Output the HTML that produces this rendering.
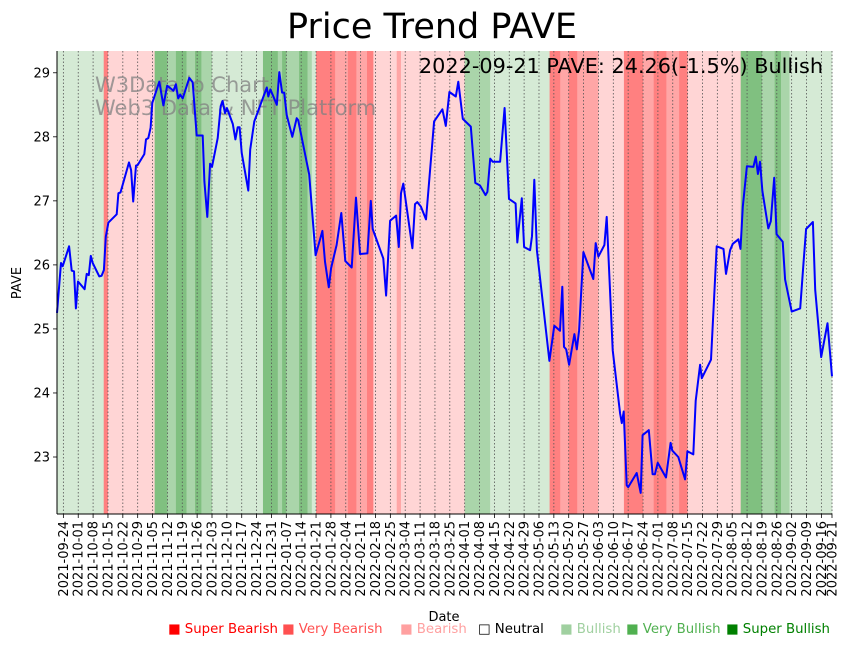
<!DOCTYPE html>
<html><head><meta charset="utf-8"><style>
html,body{margin:0;padding:0;background:#fff;}
svg{display:block;font-family:"DejaVu Sans","Liberation Sans",sans-serif;}
</style></head><body>
<svg id="chart" width="851" height="646" viewBox="0 0 851 646" xmlns="http://www.w3.org/2000/svg">
<g id="bands"></g>
<g id="grid"></g>
<text x="95" y="92" font-size="21" fill="#808080" fill-opacity="0.75">W3Data.io Chart</text>
<text x="95" y="115" font-size="21" fill="#808080" fill-opacity="0.75">Web3 Data &amp; NFT Platform</text>
<path id="line" fill="none" stroke="#0000ff" stroke-width="2" stroke-linejoin="round"></path>
<g id="axes"></g>
<text x="432" y="38" font-size="35" text-anchor="middle" fill="#000">Price Trend PAVE</text>
<text x="823" y="73" font-size="20.8" text-anchor="end" fill="#000">2022-09-21 PAVE: 24.26(-1.5%) Bullish</text>
<text transform="translate(21,283) rotate(-90)" font-size="13" text-anchor="middle">PAVE</text>
<text x="444" y="621" font-size="13" text-anchor="middle">Date</text>
<g id="legend" font-size="13.3"></g>
</svg>
<script>
const priceDays=[0,1.9,2.7,5.7,6.9,8,8.9,9.9,13,14,15,15.9,16.8,19.9,21,22.1,23,24.2,28.1,28.9,29.9,33.9,34.9,35.9,37.2,38,41.1,41.9,43,44.1,44.9,48.2,50.1,51.9,54.8,56,57.1,58,59.2,62.3,63.9,65.8,68.6,69.4,70.8,72.1,73,75.7,77.1,78,79.1,80,82.8,84,85.1,86,87,90.1,91,92.9,98.8,99.5,100.5,103.5,104.7,106,107,108.2,110.8,112.9,113.6,118.8,121.8,125,126.2,128,129.1,131.7,133.9,135.8,138.8,140.8,142.7,146.2,147.8,148.7,153.7,155,156.9,159.7,161,162,163.1,167.4,168.6,169.7,171.4,173.8,177.6,181.5,183.1,184.8,187.8,189,191.1,194.9,197,199.2,201.8,202.7,204,205.2,208.7,210.8,212.9,216,216.8,218.9,220,222.8,223.7,224.8,226,231.9,234.2,236.9,238,238.8,239.8,241.2,243.7,244.8,245.9,247.9,252.6,253.7,255,257.8,258.9,261.7,265.2,266,266.9,268.3,269,273,274.9,275.8,278.7,280.5,281.6,282.9,286.8,289,289.8,292.6,295.8,296.9,299.7,300.8,302.9,303.7,308,310.7,313.9,315.1,317,318.3,320.9,321.9,323,324.9,328,329.1,330.1,331.1,332.2,335,336.2,337.8,338.9,341.8,342.9,346,350,351.6,352.8,356,357.1,358.2,359.9,362.9,365];
const priceValues=[25.25,26.03,25.98,26.29,25.91,25.9,25.32,25.74,25.62,25.86,25.84,26.14,26.03,25.82,25.83,25.92,26.44,26.66,26.79,27.12,27.13,27.6,27.48,26.99,27.55,27.56,27.73,27.96,27.98,28.14,28.53,28.86,28.49,28.8,28.72,28.82,28.6,28.66,28.6,28.92,28.85,28.02,28.02,27.3,26.75,27.58,27.53,27.98,28.48,28.56,28.37,28.45,28.2,27.96,28.15,28.15,27.75,27.16,27.8,28.24,28.77,28.63,28.74,28.5,29.01,28.69,28.69,28.34,28.0,28.29,28.26,27.41,26.15,26.53,26.05,25.65,25.95,26.31,26.81,26.06,25.96,27.05,26.17,26.18,27.0,26.56,26.1,25.52,26.69,26.77,26.28,27.12,27.27,26.26,26.95,26.98,26.91,26.71,28.24,28.43,28.17,28.7,28.63,28.86,28.28,28.16,27.28,27.24,27.09,27.14,27.66,27.61,27.61,28.45,27.03,26.96,26.35,27.04,26.28,26.23,26.45,27.33,26.23,24.5,25.05,24.97,25.66,24.72,24.68,24.44,24.92,24.68,24.98,26.2,25.78,26.34,26.13,26.31,26.75,24.67,23.68,23.53,23.71,22.56,22.53,22.75,22.44,23.34,23.42,22.73,22.73,22.91,22.68,23.22,23.1,23.0,22.65,23.09,23.04,23.88,24.44,24.23,24.52,26.29,26.25,25.86,26.23,26.33,26.4,26.25,26.91,27.54,27.53,27.69,27.42,27.61,27.15,26.57,26.68,27.36,26.48,26.36,25.77,25.27,25.32,26.03,26.56,26.67,25.61,25.19,24.56,25.09,24.26];
const bandStarts=[0,22,24,46,52,56,61,65,68,73,97,104,106,108,114,118,120,122,131,137,141,146,149,160,162,192,204,232,237,241,245,255,267,276,281,287,293,297,322,332,338,341,345];
const bandLevels=[1,-3,-1,3,2,3,2,3,2,1,3,2,3,2,3,2,1,-3,-2,-3,-2,-3,-1,-2,-1,2,1,-3,-2,-3,-2,-1,-3,-2,-3,-2,-3,-1,3,2,3,2,1];
const yTicks=[23,24,25,26,27,28,29];
const xTickLabels=["2021-09-24","2021-10-01","2021-10-08","2021-10-15","2021-10-22","2021-10-29","2021-11-05","2021-11-12","2021-11-19","2021-11-26","2021-12-03","2021-12-10","2021-12-17","2021-12-24","2021-12-31","2022-01-07","2022-01-14","2022-01-21","2022-01-28","2022-02-04","2022-02-11","2022-02-18","2022-02-25","2022-03-04","2022-03-11","2022-03-18","2022-03-25","2022-04-01","2022-04-08","2022-04-15","2022-04-22","2022-04-29","2022-05-06","2022-05-13","2022-05-20","2022-05-27","2022-06-03","2022-06-10","2022-06-17","2022-06-24","2022-07-01","2022-07-08","2022-07-15","2022-07-22","2022-07-29","2022-08-05","2022-08-12","2022-08-19","2022-08-26","2022-09-02","2022-09-09","2022-09-16","2022-09-21"];
const legendLabels=["Super Bearish","Very Bearish","Bearish","Neutral","Bullish","Very Bullish","Super Bullish"];

const NS="http://www.w3.org/2000/svg";
const L=57,R=832,T=51,B=514,totalDays=365,yMin=22.11,yMax=29.34;
const startDate=Date.UTC(2021,8,21);
function xScale(d){return L+d*(R-L)/totalDays;}
function yScale(v){return B-(v-yMin)*(B-T)/(yMax-yMin);}
function dayOf(s){const p=s.split('-');return (Date.UTC(+p[0],+p[1]-1,+p[2])-startDate)/86400000;}
const levelColor={"-3":"#ff8080","-2":"#ffa6a6","-1":"#ffd5d5","0":"#ffffff","1":"#d5ead5","2":"#aad5aa","3":"#80c080"};
function mk(tag,attrs,parent){const e=document.createElementNS(NS,tag);for(const k in attrs)e.setAttribute(k,attrs[k]);parent.appendChild(e);return e;}

const bands=document.getElementById('bands');
for(let i=0;i<bandStarts.length;i++){
  const s=bandStarts[i],e=i+1<bandStarts.length?bandStarts[i+1]:totalDays+1;
  const x0=xScale(s),x1=Math.min(R,xScale(e));
  const r=mk('rect',{x:x0,y:T,width:x1-x0+0.3,height:B-T,fill:levelColor[bandLevels[i]]},bands);
  
  
}
const grid=document.getElementById('grid'),axes=document.getElementById('axes');
xTickLabels.forEach(lbl=>{
  const x=xScale(dayOf(lbl));
  const g=mk('line',{x1:x,x2:x,y1:T,y2:B,stroke:'#555','stroke-width':0.8,'stroke-dasharray':'1.5,2'},grid);
  
  
  const t=mk('line',{x1:x,x2:x,y1:B,y2:B+4,stroke:'#000','stroke-width':0.8},axes);
  
  
  const tx=mk('text',{transform:`translate(${x+4.5},${B+7}) rotate(-90)`,'font-size':13,'text-anchor':'end'},axes);
  tx.textContent=lbl;
  
  
});
yTicks.forEach(v=>{
  const y=yScale(v);
  const t=mk('line',{x1:L-4,x2:L,y1:y,y2:y,stroke:'#000','stroke-width':0.8},axes);
  
  
  const tx=mk('text',{x:L-7,y:y+4.5,'font-size':13,'text-anchor':'end'},axes);
  tx.textContent=v;
  
  
});
const la=mk('line',{x1:L,x2:L,y1:T,y2:B,stroke:'#000','stroke-width':1},axes);


const ba=mk('line',{x1:L,x2:R,y1:B,y2:B,stroke:'#000','stroke-width':1},axes);



let d='';
priceDays.forEach((dd,i)=>{d+=(i?'L':'M')+xScale(dd).toFixed(1)+','+yScale(priceValues[i]).toFixed(1);});
document.getElementById('line').setAttribute('d',d);

const legend=document.getElementById('legend');
const legColors=["#ff0000","#ff5050","#ffa0a0","#000000","#a0d0a0","#50b050","#008000"];
const legX=[167,281,399,477,559,625,725];
legendLabels.forEach((lbl,i)=>{
  const t=mk('text',{x:legX[i]+1,y:633,fill:legColors[i]},legend);
  t.textContent=(i===3?'□ ':'■ ')+lbl;
  
  
});
</script>
</body></html>
